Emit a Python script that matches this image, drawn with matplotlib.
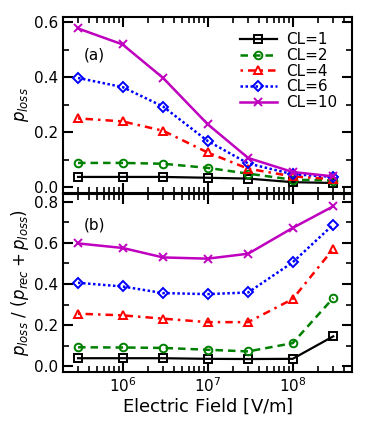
import numpy as np
import matplotlib
matplotlib.use("Agg")
import matplotlib.pyplot as plt
from matplotlib.ticker import MultipleLocator, LogLocator, NullFormatter

# Electric field values [V/m]
field = [3e5, 1e6, 3e6, 1e7, 3e7, 1e8, 3e8]

labels = ['CL=1', 'CL=2', 'CL=4', 'CL=6', 'CL=10']

# (a) p_loss
p_loss = [
    [0.038, 0.038, 0.038, 0.035, 0.032, 0.019, 0.016],
    [0.089, 0.089, 0.086, 0.071, 0.050, 0.028, 0.025],
    [0.251, 0.240, 0.206, 0.127, 0.068, 0.040, 0.030],
    [0.398, 0.365, 0.294, 0.169, 0.087, 0.048, 0.038],
    [0.578, 0.520, 0.398, 0.230, 0.107, 0.056, 0.040],
]

# (b) p_loss / (p_rec + p_loss)
p_frac = [
    [0.040, 0.040, 0.040, 0.037, 0.036, 0.037, 0.146],
    [0.093, 0.092, 0.090, 0.081, 0.073, 0.113, 0.332],
    [0.256, 0.248, 0.232, 0.215, 0.215, 0.327, 0.570],
    [0.406, 0.388, 0.356, 0.351, 0.359, 0.505, 0.688],
    [0.597, 0.575, 0.529, 0.523, 0.547, 0.672, 0.777],
]

colors = ['black', 'green', 'red', 'blue', 'm']
markers = ['s', 'o', '^', 'D', 'x']
styles = ['-', (0, (3, 2)), (0, (1, 2, 3, 2)), (0, (1, 1)), '-']
widths = [1.6, 1.8, 1.8, 1.8, 1.8]

fig = plt.figure(figsize=(3.71, 4.23), dpi=100)
ax1 = fig.add_axes([0.170, 0.544, 0.779, 0.416])
ax2 = fig.add_axes([0.170, 0.121, 0.779, 0.420])


def draw(ax, data):
    for y, c, m, ls, lw, lab in zip(data, colors, markers, styles, widths, labels):
        ax.plot(field, y, color=c, marker=m, ls=ls, lw=lw,
                ms=5.5, mfc='none', mec=c, mew=1.4, label=lab)
    ax.set_xscale('log')
    ax.set_xlim(2e5, 5e8)
    ax.xaxis.set_major_locator(LogLocator(base=10, numticks=10))
    ax.xaxis.set_minor_locator(LogLocator(base=10, subs=np.arange(2, 10), numticks=20))
    ax.xaxis.set_minor_formatter(NullFormatter())
    ax.yaxis.set_major_locator(MultipleLocator(0.2))
    ax.yaxis.set_minor_locator(MultipleLocator(0.1))
    ax.tick_params(which='both', direction='in', top=True, right=True, labelsize=11)
    ax.tick_params(which='major', length=7, width=1.5)
    ax.tick_params(which='minor', length=4, width=1.2)
    for s in ax.spines.values():
        s.set_linewidth(1.5)


draw(ax1, p_loss)
ax1.set_ylim(-0.02, 0.62)
ax1.tick_params(labelbottom=False)
ax1.set_ylabel(r'$p_{loss}$', fontsize=12, labelpad=2)
ax1.text(0.07, 0.76, '(a)', transform=ax1.transAxes, fontsize=11)
ax1.legend(loc='upper right', frameon=False, fontsize=11, handlelength=2.4,
           labelspacing=0.05, borderaxespad=0.6, handletextpad=0.6)

draw(ax2, p_frac)
ax2.set_ylim(-0.026, 0.836)
ax2.set_ylabel(r'$p_{loss}\ /\ (p_{rec}+p_{loss})$', fontsize=12, labelpad=2)
ax2.text(0.07, 0.80, '(b)', transform=ax2.transAxes, fontsize=11)
ax2.set_xlabel(r'Electric Field $\mathrm{[V/m]}$', fontsize=13, labelpad=1)

fig.savefig('out.png', dpi=100)
